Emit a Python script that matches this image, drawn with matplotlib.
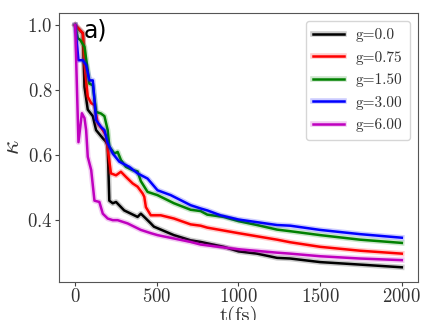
import matplotlib
matplotlib.use("Agg")
import matplotlib.pyplot as plt
import matplotlib.patheffects as pe

plt.rcParams['font.family'] = 'serif'
plt.rcParams['font.serif'] = ['cmr10']
plt.rcParams['mathtext.fontset'] = 'cm'
plt.rcParams['axes.formatter.use_mathtext'] = True

labels = ["g=0.0", "g=0.75", "g=1.50", "g=3.00", "g=6.00"]
colors = ["black", "red", "green", "blue", "m"]

t0 = [0, 47, 57, 77, 108, 128, 169, 189, 199, 209, 230, 250, 300, 382, 402, 433, 463, 482,
      604, 707, 768, 909, 1000, 1114, 1236, 1317, 1500, 1785, 2000]
k0 = [1.0, 0.975, 0.81, 0.74, 0.72, 0.677, 0.652, 0.641, 0.63, 0.46, 0.452, 0.456, 0.43, 0.41,
      0.42, 0.405, 0.39, 0.38, 0.354, 0.338, 0.333, 0.318, 0.304, 0.297, 0.284, 0.282, 0.271,
      0.262, 0.255]

t1 = [0, 20, 47, 57, 77, 98, 118, 138, 169, 189, 203, 219, 250, 280, 311, 352, 382, 413, 423,
      433, 463, 524, 605, 707, 768, 809, 1000, 1236, 1317, 1500, 1744, 2000]
k1 = [1.0, 0.99, 0.975, 0.882, 0.78, 0.76, 0.754, 0.698, 0.677, 0.66, 0.605, 0.544, 0.538,
      0.549, 0.533, 0.513, 0.503, 0.482, 0.472, 0.44, 0.415, 0.415, 0.405, 0.387, 0.383,
      0.377, 0.36, 0.34, 0.332, 0.318, 0.306, 0.297]

t2 = [0, 16, 32, 57, 77, 87, 108, 128, 158, 179, 199, 209, 240, 260, 280, 311, 352, 382, 402,
      443, 504, 605, 707, 768, 809, 909, 1000, 1114, 1236, 1317, 1500, 1744, 2000]
k2 = [1.0, 0.96, 0.954, 0.933, 0.86, 0.82, 0.815, 0.733, 0.728, 0.72, 0.677, 0.626, 0.605,
      0.61, 0.585, 0.564, 0.554, 0.55, 0.52, 0.487, 0.477, 0.452, 0.432, 0.428, 0.417, 0.41,
      0.397, 0.385, 0.371, 0.366, 0.354, 0.34, 0.330]

t3 = [0, 20, 47, 67, 87, 108, 128, 158, 179, 199, 230, 270, 331, 382, 443, 504, 585, 707,
      768, 809, 890, 1000, 1236, 1317, 1500, 1744, 2000]
k3 = [1.0, 0.892, 0.892, 0.877, 0.83, 0.83, 0.708, 0.687, 0.677, 0.637, 0.605, 0.58, 0.564,
      0.544, 0.528, 0.492, 0.477, 0.446, 0.436, 0.43, 0.415, 0.402, 0.385, 0.383, 0.37, 0.357,
      0.346]

t4 = [0, 20, 41, 57, 67, 77, 98, 118, 148, 169, 199, 230, 260, 321, 402, 463, 504, 707, 768,
      909, 1012, 1236, 1317, 1500, 1744, 2000]
k4 = [1.0, 0.64, 0.729, 0.714, 0.677, 0.595, 0.554, 0.46, 0.456, 0.42, 0.405, 0.40, 0.40,
      0.39, 0.37, 0.36, 0.354, 0.333, 0.325, 0.316, 0.31, 0.30, 0.297, 0.289, 0.282, 0.277]

ts = [t0, t1, t2, t3, t4]
ks = [k0, k1, k2, k3, k4]

fig = plt.figure(figsize=(4.36, 3.2), dpi=100)
ax = fig.add_axes([0.135, 0.119, 0.824, 0.840])

for t, k, c, lab in zip(ts, ks, colors, labels):
    ax.plot(t, k, color=c, lw=1.8, label=lab,
            path_effects=[pe.Stroke(linewidth=4, foreground=c, alpha=0.2), pe.Normal()])

ax.set_ylim(0.21, 1.037)
ax.set_xticks([0, 500, 1000, 1500, 2000])
ax.set_yticks([0.4, 0.6, 0.8, 1.0])
ax.tick_params(labelsize=13.5, colors='#444444', labelcolor='#333333', length=3, pad=1.5)
for s in ax.spines.values():
    s.set_color('#555555')
ax.set_xlabel('t(fs)', fontsize=15, color='#333333', labelpad=0)
ax.set_ylabel(r'$\kappa$', fontsize=18, color='#333333', labelpad=2)
ax.text(0.07, 0.935, 'a)', transform=ax.transAxes, fontsize=17, family='DejaVu Sans',
        va='center', ha='left')
leg = ax.legend(loc='upper right', fontsize=11, fancybox=True, framealpha=0.8,
                borderpad=0.5, labelspacing=0.55, handlelength=2.0)
for tx in leg.get_texts():
    tx.set_color('#333333')

fig.savefig('out.png', dpi=100)
